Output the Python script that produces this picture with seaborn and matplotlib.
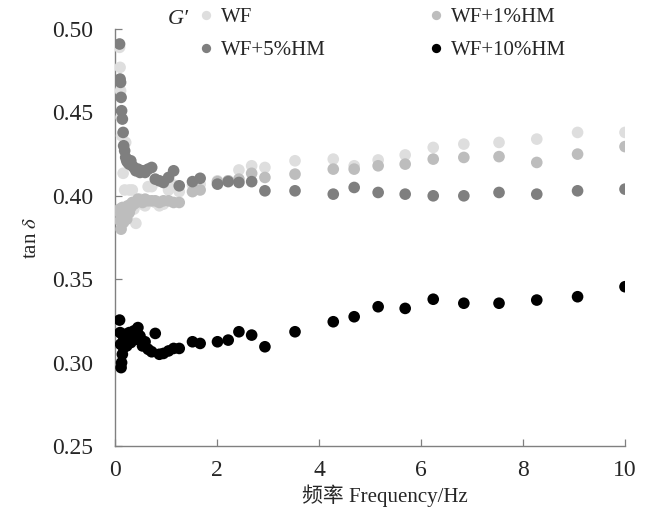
import pandas as pd
import matplotlib
matplotlib.use("Agg")
import matplotlib.pyplot as plt
import seaborn as sns

sns.set_style("ticks")
plt.rcParams['font.family'] = ['Liberation Serif', 'Noto Sans CJK SC']
plt.rcParams['mathtext.fontset'] = 'stix'

# frequency sweep (Hz), shared by all four samples
freq = [0.09, 0.10, 0.11, 0.12, 0.13, 0.145, 0.16, 0.17, 0.19, 0.21, 0.23, 0.25,
        0.28, 0.31, 0.34, 0.37, 0.41, 0.45, 0.49, 0.54, 0.59, 0.65, 0.72, 0.79,
        0.87, 0.95, 1.05, 1.15, 1.26, 1.52, 1.67, 2.01, 2.22, 2.43, 2.68, 2.94,
        3.53, 4.28, 4.69, 5.16, 5.69, 6.24, 6.84, 7.53, 8.27, 9.07, 10.0]

tan_wf = [0.489, 0.477, 0.463, 0.447, 0.436, 0.389, 0.4135, 0.384, 0.4035, 0.432, 0.393, 0.388,
          0.4035, 0.395, 0.4035, 0.392, 0.3835, 0.396, 0.398, 0.395, 0.394, 0.4055, 0.4055, 0.396,
          0.394, 0.395, 0.4035, 0.4065, 0.4025, 0.4065, 0.407, 0.409, 0.409, 0.4155, 0.418, 0.417,
          0.421, 0.422, 0.418, 0.4215, 0.4245, 0.429, 0.431, 0.432, 0.434, 0.438, 0.438]

tan_1hm = [0.392, 0.385, 0.389, 0.380, 0.386, 0.393, 0.384, 0.390, 0.388, 0.393, 0.386, 0.394,
           0.390, 0.393, 0.396, 0.395, 0.396, 0.398, 0.397, 0.396, 0.398, 0.397, 0.397, 0.397,
           0.396, 0.397, 0.397, 0.396, 0.396, 0.4025, 0.4035, 0.4085, 0.409, 0.410, 0.4135, 0.411,
           0.413, 0.416, 0.416, 0.418, 0.419, 0.422, 0.423, 0.4235, 0.420, 0.425, 0.4295]

tan_5hm = [0.491, 0.470, 0.468, 0.459, 0.451, 0.446, 0.438, 0.430, 0.427, 0.423, 0.421, 0.420,
           0.419, 0.421, 0.418, 0.417, 0.415, 0.416, 0.414, 0.415, 0.414, 0.416, 0.417, 0.410,
           0.409, 0.408, 0.411, 0.415, 0.406, 0.4085, 0.4105, 0.407, 0.4085, 0.408, 0.4085, 0.403,
           0.403, 0.401, 0.405, 0.402, 0.401, 0.400, 0.400, 0.402, 0.401, 0.403, 0.404]

tan_10hm = [0.3255, 0.318, 0.311, 0.297, 0.300, 0.305, 0.316, 0.309, 0.313, 0.317, 0.310, 0.315,
            0.318, 0.312, 0.316, 0.319, 0.314, 0.321, 0.316, 0.310, 0.3125, 0.308, 0.3065, 0.3175,
            0.305, 0.3055, 0.307, 0.3085, 0.3085, 0.3125, 0.3115, 0.3125, 0.3135, 0.3185, 0.3165, 0.3095,
            0.3185, 0.3245, 0.3275, 0.3335, 0.3325, 0.338, 0.3356, 0.3356, 0.3375, 0.3395, 0.3455]

samples = ["WF", "WF+1%HM", "WF+5%HM", "WF+10%HM"]
colors = ["#dedede", "#bdbdbd", "#7f7f7f", "#000000"]

df = pd.concat([
    pd.DataFrame({"freq": freq, "tan": vals, "sample": name})
    for name, vals in zip(samples, [tan_wf, tan_1hm, tan_5hm, tan_10hm])
])

fig = plt.figure(figsize=(6.47, 5.17), dpi=100)
ax = fig.add_axes([0.1777, 0.1373, 0.7883, 0.8066])

sns.scatterplot(data=df, x="freq", y="tan", hue="sample", hue_order=samples,
                palette=colors, s=70, linewidth=0, ax=ax, zorder=3)

ax.set_xlim(0, 10)
ax.set_ylim(0.25, 0.50)
ax.set_xticks([0, 2, 4, 6, 8, 10])
ax.set_yticks([0.25, 0.30, 0.35, 0.40, 0.45, 0.50])
ax.set_yticklabels(["%.2f" % v for v in ax.get_yticks()])
ax.tick_params(direction="in", length=5, width=0.9, color="#808080", labelsize=17)
ax.tick_params(axis="y", pad=15.5)
ax.tick_params(axis="x", pad=10)
for side in ["top", "right"]:
    ax.spines[side].set_visible(False)
for side in ["left", "bottom"]:
    ax.spines[side].set_color("#808080")
    ax.spines[side].set_linewidth(1.0)

ax.set_xlabel("频率 Frequency/Hz", fontsize=15)
ax.xaxis.set_label_coords(0.53, -0.093)
ax.set_ylabel(r"tan $\delta$", fontsize=15, labelpad=8)

# legend, laid out row by row in two columns
handles, labels = ax.get_legend_handles_labels()
ax.get_legend().remove()
order = [0, 2, 1, 3]
fig.legend([handles[i] for i in order], [labels[i] for i in order],
           loc="upper left", bbox_to_anchor=(0.306, 0.985), ncol=2, frameon=False,
           fontsize=15, markerscale=0.8, handlelength=0.8, handletextpad=0.3,
           columnspacing=4.9, labelspacing=0.62, borderpad=0, borderaxespad=0)

fig.text(178 / 647, 1 - 19 / 517, "G′", style="italic", fontsize=16, ha="center", va="center")

fig.savefig("out.png", dpi=100)
